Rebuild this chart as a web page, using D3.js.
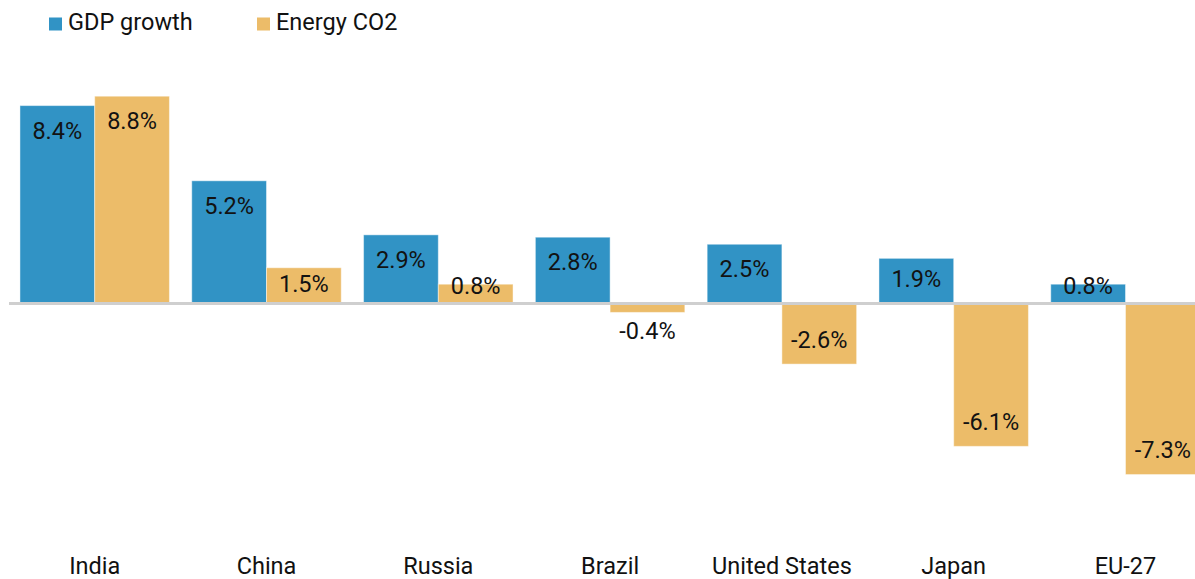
<!DOCTYPE html>
<html>
<head>
<meta charset="utf-8">
<script src="https://cdn.jsdelivr.net/npm/d3@7"></script>
<style>
  body { margin: 0; background: #fff; }
  svg { display: block; font-family: Roboto, "Noto Sans", sans-serif; }
</style>
</head>
<body>
<svg></svg>
<script>
// Data
const countries = ["India", "China", "Russia", "Brazil", "United States", "Japan", "EU-27"];
const gdpGrowth = [8.4, 5.2, 2.9, 2.8, 2.5, 1.9, 0.8];
const energyCO2 = [8.8, 1.5, 0.8, -0.4, -2.6, -6.1, -7.3];
const seriesNames = ["GDP growth", "Energy CO2"];
const seriesColors = ["#3193c5", "#ecbc69"];

const width = 1195;
const height = 579;

const svg = d3.select("svg")
  .attr("width", width)
  .attr("height", height);

const rows = countries.map((c, i) => ({ country: c, values: [gdpGrowth[i], energyCO2[i]] }));

// Scales
const x = d3.scaleBand()
  .domain(countries)
  .range([8.8, 1211.4])
  .paddingInner(0.13)
  .paddingOuter(0.065);

const xInner = d3.scaleBand()
  .domain(seriesNames)
  .range([0, x.bandwidth()]);

const y = d3.scaleLinear()
  .domain([-9, 10])
  .range([303 + 9 * 23.5, 303 - 10 * 23.5]);

const zero = y(0);
const fmt = v => d3.format(".1f")(v).replace("\u2212", "-") + "%";

// Bars
const groups = svg.append("g").selectAll("g")
  .data(rows)
  .join("g")
  .attr("transform", d => `translate(${x(d.country)},0)`);

const cells = groups.selectAll("g")
  .data(d => d.values.map((v, i) => ({ name: seriesNames[i], value: v, i })))
  .join("g");

cells.append("rect")
  .attr("x", d => xInner(d.name))
  .attr("width", xInner.bandwidth())
  .attr("y", d => Math.min(y(d.value), zero))
  .attr("height", d => Math.abs(y(d.value) - zero))
  .attr("fill", d => seriesColors[d.i])
  .attr("stroke", "rgba(255,255,255,0.45)")
  .attr("stroke-width", 1);

// Value labels: inside the bar end, pulled toward zero for short bars
function labelY(v) {
  const end = y(v);
  if (v >= 0) {
    return Math.min(end + 25, (end + zero) / 2 - 2, zero - 17);
  }
  if (end - zero >= 30) return Math.max(end - 24.5, (end + zero) / 2 + 2);
  return end + 18;
}

cells.append("text")
  .attr("x", d => xInner(d.name) + xInner.bandwidth() / 2)
  .attr("y", d => labelY(d.value))
  .attr("dy", "0.35em")
  .attr("text-anchor", "middle")
  .attr("font-size", 23.5)
  .attr("fill", "#121212")
  .text(d => fmt(d.value));

// Zero line
svg.append("line")
  .attr("x1", 9)
  .attr("x2", width)
  .attr("y1", zero + 0.5)
  .attr("y2", zero + 0.5)
  .attr("stroke", "#cfcfcf")
  .attr("stroke-width", 3);

// Country axis
const xAxis = svg.append("g")
  .attr("transform", `translate(0,${574})`)
  .call(d3.axisBottom(x).tickSize(0).tickPadding(0));
xAxis.select(".domain").remove();
xAxis.selectAll("text")
  .attr("dy", 0)
  .attr("font-size", 23.5)
  .attr("font-family", "Roboto, sans-serif")
  .attr("fill", "#111");

// Legend
const legendX = [49, 257];
const legend = svg.append("g").selectAll("g")
  .data(seriesNames)
  .join("g")
  .attr("transform", (d, i) => `translate(${legendX[i]},0)`);

legend.append("rect")
  .attr("y", 17.5)
  .attr("width", 13)
  .attr("height", 13)
  .attr("fill", (d, i) => seriesColors[i]);

legend.append("text")
  .attr("x", 19)
  .attr("y", 30)
  .attr("font-size", 23.5)
  .attr("fill", "#111")
  .text(d => d);
</script>
</body>
</html>
